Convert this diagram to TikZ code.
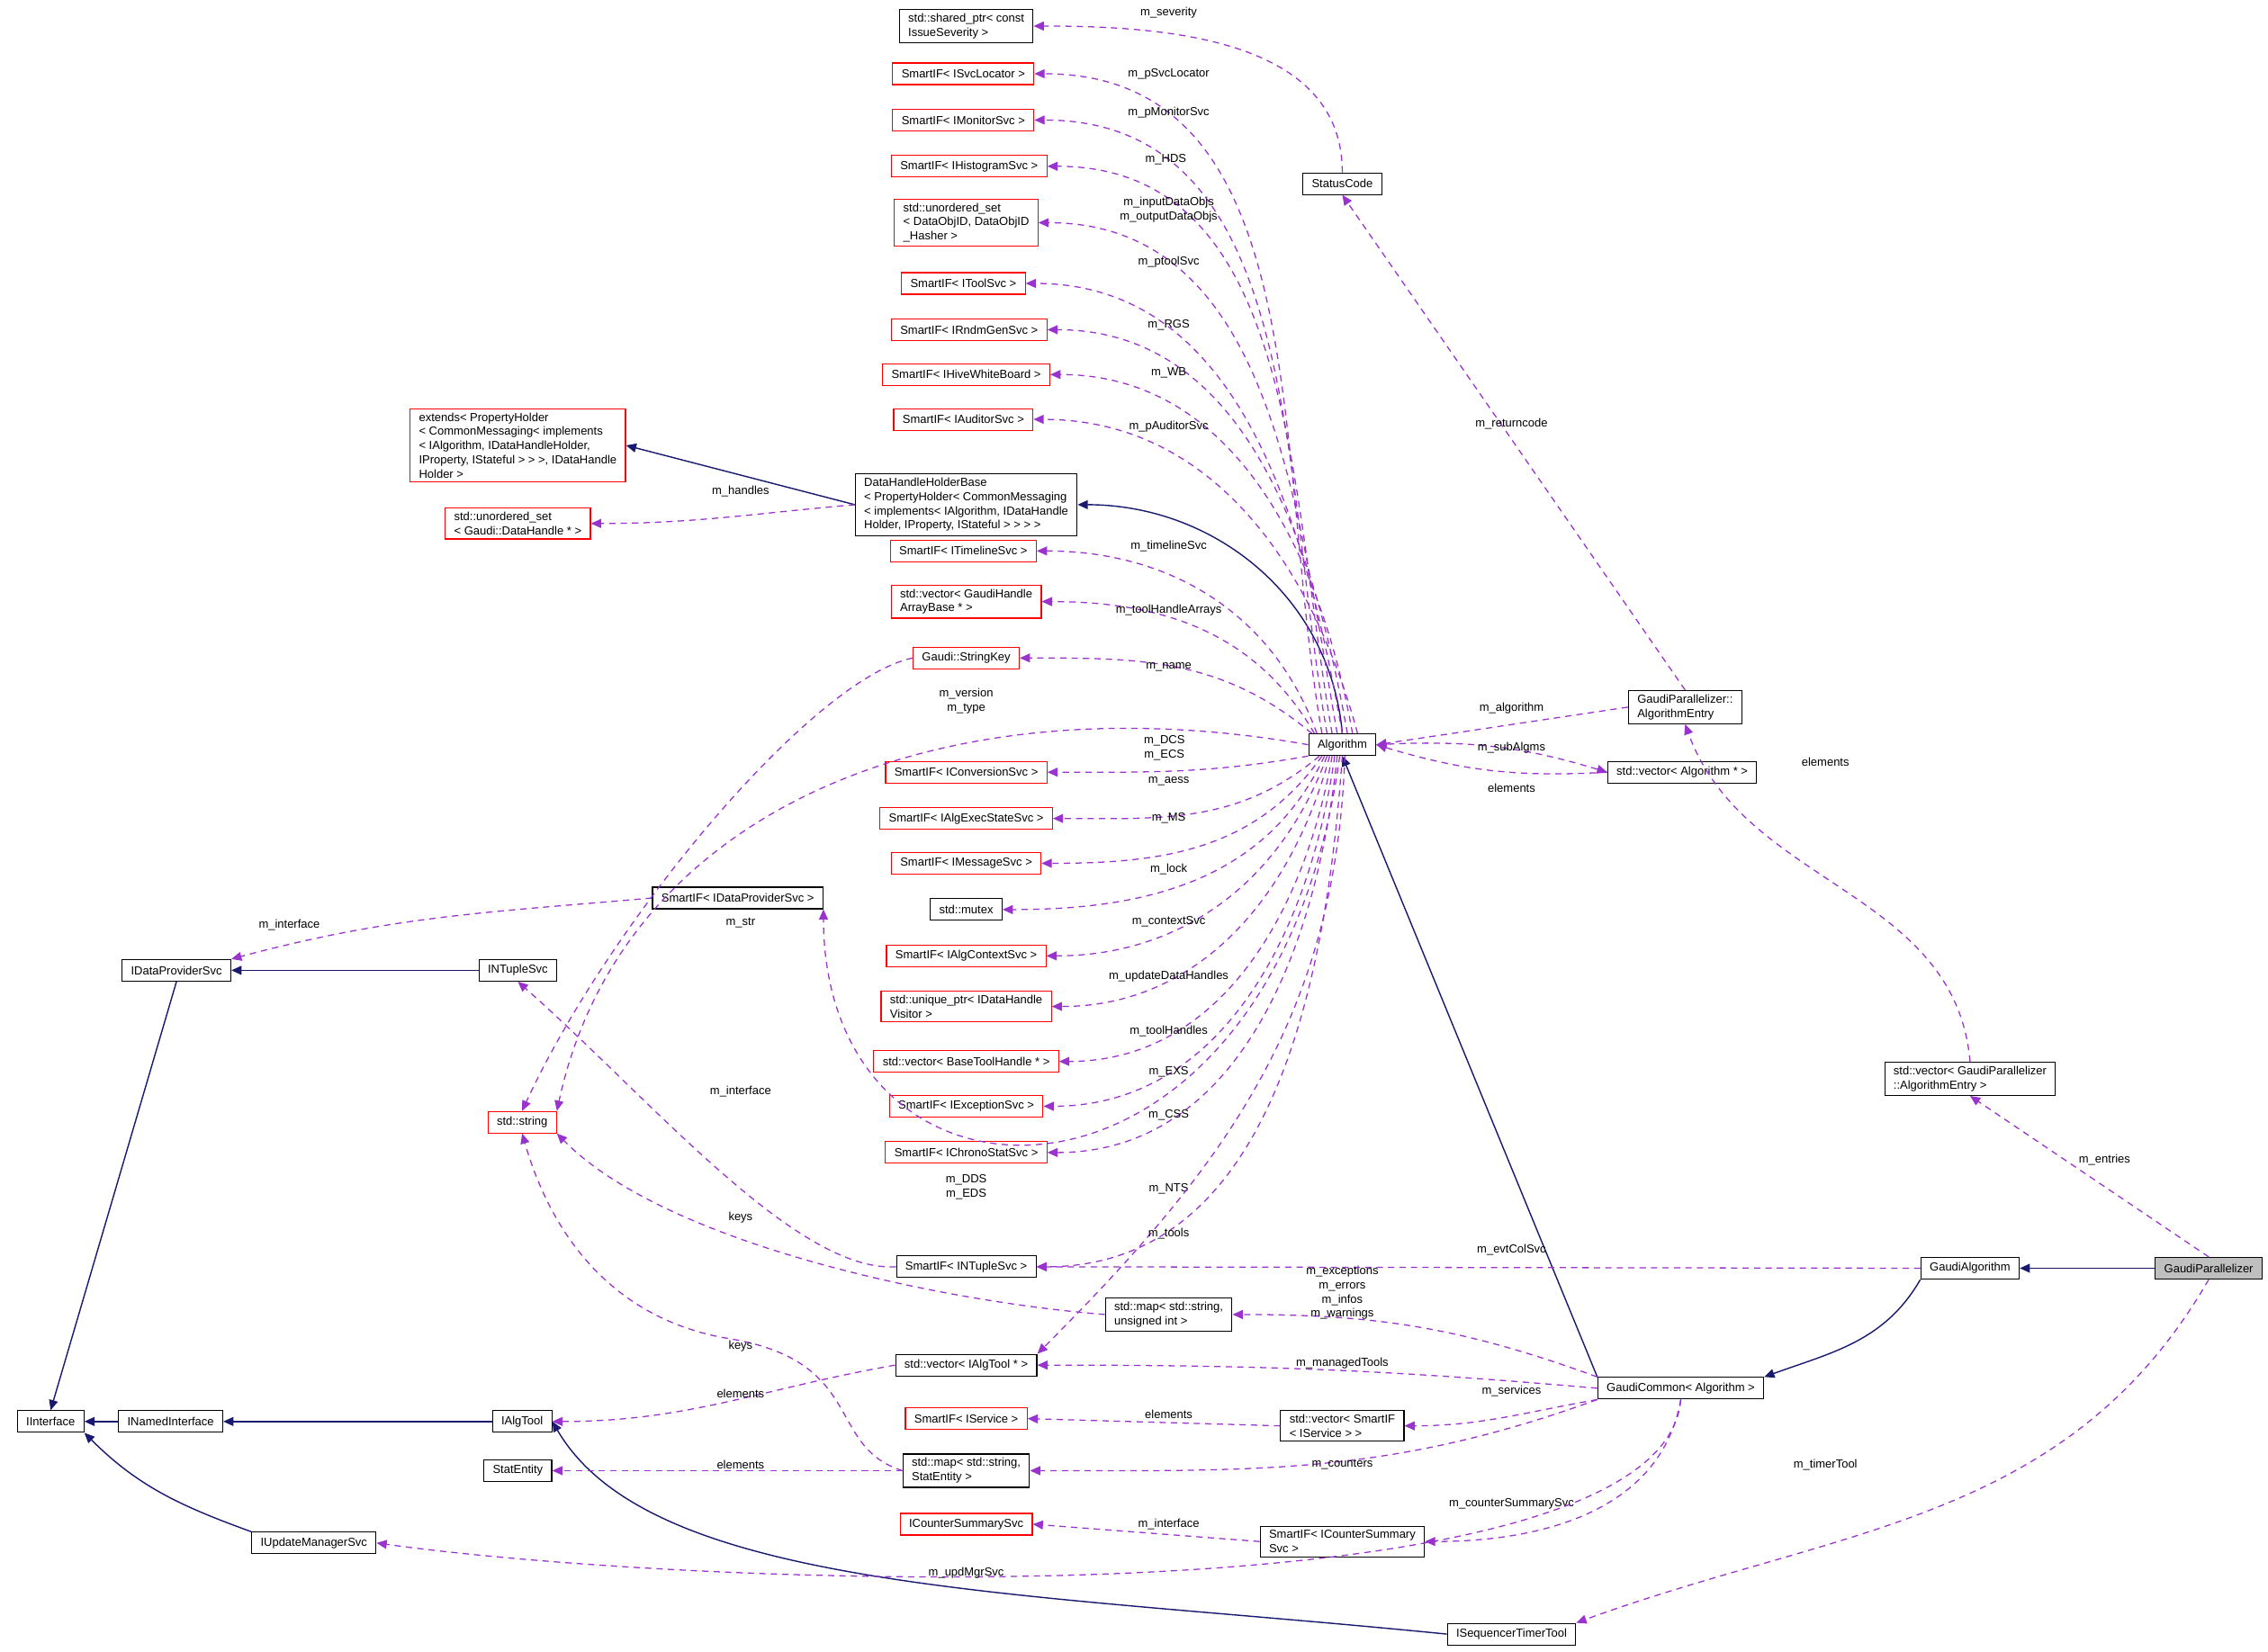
\documentclass[tikz,border=0pt]{standalone}
\usepackage{fontspec}
\setmainfont{Liberation Sans}
\usetikzlibrary{arrows.meta}
\definecolor{inhcol}{RGB}{25,25,112}
\definecolor{usecol}{RGB}{154,50,205}
\begin{document}
\begin{tikzpicture}[x=0.02cm,y=-0.02cm,
  every node/.style={font=\fontsize{4.6}{5.6}\selectfont},
  cls/.style={draw=black,line width=0.4pt,fill=white,inner xsep=3.5pt,inner ysep=1.6pt,minimum height=8.5pt,align=left},
  ext/.style={cls,draw=red},
  cur/.style={cls,fill=black!25},
  inh/.style={draw=inhcol,line width=0.5pt,-{Triangle[length=4pt,width=3.5pt]}},
  use/.style={draw=usecol,line width=0.45pt,dash pattern=on 2.5pt off 2pt,-{Triangle[length=4pt,width=3.5pt]}},
  lbl/.style={inner sep=0.5pt,align=center}]
    \fill[white] (0,0) rectangle (1568,1142);
    % Left column
    \node[cls] (iif) at (35,983) {IInterface};
    \node[cls] (inamed) at (118,983) {INamedInterface};
    \node[cls] (ialgtool) at (361,983) {IAlgTool};
    \node[cls] (statent) at (358,1017) {StatEntity};
    \node[cls] (iupd) at (217,1067) {IUpdateManagerSvc};
    \node[cls] (idps) at (122,671) {IDataProviderSvc};
    \node[cls] (intup) at (358,671) {INTupleSvc};
    \node[ext] (stdstr) at (361,776) {std::string};
    \node[ext] (extends) at (358,308) {extends< PropertyHolder\\< CommonMessaging< implements\\< IAlgorithm, IDataHandleHolder,\\ IProperty, IStateful > > >, IDataHandle\\Holder >};
    \node[ext] (uset) at (358,362) {std::unordered\_set\\< Gaudi::DataHandle * >};
    \node[cls] (sidps) at (510,621) {SmartIF< IDataProviderSvc >};
    % Middle column
    \node[cls] (shsev) at (668,18) {std::shared\_ptr< const\\ IssueSeverity >};
    \node[ext] (ssvcloc) at (666,51) {SmartIF< ISvcLocator >};
    \node[ext] (smon) at (666,83) {SmartIF< IMonitorSvc >};
    \node[ext] (shist) at (670,115) {SmartIF< IHistogramSvc >};
    \node[ext] (usetobj) at (668,154) {std::unordered\_set\\< DataObjID, DataObjID\\\_Hasher >};
    \node[ext] (stool) at (666,196) {SmartIF< IToolSvc >};
    \node[ext] (srndm) at (670,228) {SmartIF< IRndmGenSvc >};
    \node[ext] (shive) at (668,259) {SmartIF< IHiveWhiteBoard >};
    \node[ext] (saud) at (666,290) {SmartIF< IAuditorSvc >};
    \node[cls] (dhhb) at (668,349) {DataHandleHolderBase\\< PropertyHolder< CommonMessaging\\< implements< IAlgorithm, IDataHandle\\Holder, IProperty, IStateful > > > >};
    \node[ext] (stime) at (666,381) {SmartIF< ITimelineSvc >};
    \node[ext] (vgha) at (668,416) {std::vector< GaudiHandle\\ArrayBase * >};
    \node[ext] (skey) at (668,455) {Gaudi::StringKey};
    \node[ext] (sconv) at (668,534) {SmartIF< IConversionSvc >};
    \node[ext] (saes) at (668,566) {SmartIF< IAlgExecStateSvc >};
    \node[ext] (smsg) at (668,597) {SmartIF< IMessageSvc >};
    \node[cls] (mutex) at (668,629) {std::mutex};
    \node[ext] (sctx) at (668,661) {SmartIF< IAlgContextSvc >};
    \node[ext] (uptr) at (668,696) {std::unique\_ptr< IDataHandle\\Visitor >};
    \node[ext] (vbth) at (668,734) {std::vector< BaseToolHandle * >};
    \node[ext] (sexc) at (668,765) {SmartIF< IExceptionSvc >};
    \node[ext] (schr) at (668,797) {SmartIF< IChronoStatSvc >};
    \node[cls] (sntup) at (668,876) {SmartIF< INTupleSvc >};
    \node[cls] (vtool) at (668,944) {std::vector< IAlgTool * >};
    \node[ext] (ssvc) at (668,981) {SmartIF< IService >};
    \node[cls] (mapstat) at (668,1017) {std::map< std::string,\\ StatEntity >};
    \node[ext] (icsum) at (668,1054) {ICounterSummarySvc};
    % Right column
    \node[cls] (status) at (928,127) {StatusCode};
    \node[cls] (alg) at (928,515) {Algorithm};
    \node[cls] (mapuint) at (808,909) {std::map< std::string,\\ unsigned int >};
    \node[cls] (vsvc) at (928,986) {std::vector< SmartIF\\< IService > >};
    \node[cls] (scsum) at (928,1066) {SmartIF< ICounterSummary\\Svc >};
    \node[cls] (seqtt) at (1045,1130) {ISequencerTimerTool};
    \node[cls] (algent) at (1165,489) {GaudiParallelizer::\\AlgorithmEntry};
    \node[cls] (valg) at (1163,534) {std::vector< Algorithm * >};
    \node[cls] (gcommon) at (1162,960) {GaudiCommon< Algorithm >};
    \node[cls] (galg) at (1362,877) {GaudiAlgorithm};
    \node[cls] (vent) at (1362,746) {std::vector< GaudiParallelizer\\::AlgorithmEntry >};
    \node[cur] (gpar) at (1527,877) {GaudiParallelizer};
    % Inheritance
    \draw[inh] (inamed) -- (iif);
    \draw[inh] (ialgtool) -- (inamed);
    \draw[inh] (iupd.north west) to[out=160,in=-45] (iif.south east);
    \draw[inh] (idps.south) -- (iif.north);
    \draw[inh] (intup) -- (idps);
    \draw[inh] (dhhb.west) -- (extends.east);
    \draw[inh] (alg.north) to[out=95,in=0] (dhhb.east);
    \draw[inh] (gcommon.north west) -- (alg.south);
    \draw[inh] (galg.south west) to[out=240,in=20] (gcommon.north east);
    \draw[inh] (gpar) -- (galg);
    \draw[inh] (seqtt.west) .. controls (700,1100) and (450,1100) .. (ialgtool.east);
    % Members of Algorithm
    \draw[use] (status.north) to[out=90,in=0] (shsev.east) node[lbl] at (808,9) {m\_severity};
    \draw[use] ([xshift=-8pt]alg.north) to[out=100,in=0] (ssvcloc.east) node[lbl] at (808,51) {m\_pSvcLocator};
    \draw[use] ([xshift=-6pt]alg.north) to[out=100,in=0] (smon.east) node[lbl] at (808,78) {m\_pMonitorSvc};
    \draw[use] ([xshift=-4pt]alg.north) to[out=100,in=0] (shist.east) node[lbl] at (806,110) {m\_HDS};
    \draw[use] ([xshift=-2pt]alg.north) to[out=100,in=0] (usetobj.east) node[lbl] at (808,145) {m\_inputDataObjs\\m\_outputDataObjs};
    \draw[use] (alg.north) to[out=100,in=0] (stool.east) node[lbl] at (808,181) {m\_ptoolSvc};
    \draw[use] ([xshift=2pt]alg.north) to[out=100,in=0] (srndm.east) node[lbl] at (808,225) {m\_RGS};
    \draw[use] ([xshift=4pt]alg.north) to[out=100,in=0] (shive.east) node[lbl] at (808,258) {m\_WB};
    \draw[use] ([xshift=6pt]alg.north) to[out=105,in=0] (saud.east) node[lbl] at (808,295) {m\_pAuditorSvc};
    \draw[use] ([xshift=-10pt]alg.north) to[out=110,in=0] (stime.east) node[lbl] at (808,378) {m\_timelineSvc};
    \draw[use] ([xshift=-11pt]alg.north) to[out=120,in=0] (vgha.east) node[lbl] at (808,422) {m\_toolHandleArrays};
    \draw[use] ([xshift=-12pt]alg.north) to[out=140,in=0] (skey.east) node[lbl] at (808,461) {m\_name};
    \draw[use] (alg.west) .. controls (650,470) and (430,560) .. (stdstr.north east) node[lbl] at (668,485) {m\_version\\m\_type};
    \draw[use] (alg.south west) to[out=190,in=0] (sconv.east) node[lbl] at (805,517) {m\_DCS\\m\_ECS};
    \draw[use] ([xshift=-9pt]alg.south) to[out=220,in=0] (saes.east) node[lbl] at (808,540) {m\_aess};
    \draw[use] ([xshift=-8pt]alg.south) to[out=235,in=0] (smsg.east) node[lbl] at (808,566) {m\_MS};
    \draw[use] ([xshift=-7pt]alg.south) to[out=245,in=0] (mutex.east) node[lbl] at (808,601) {m\_lock};
    \draw[use] ([xshift=-6pt]alg.south) to[out=250,in=0] (sctx.east) node[lbl] at (808,637) {m\_contextSvc};
    \draw[use] ([xshift=-5pt]alg.south) to[out=255,in=0] (uptr.east) node[lbl] at (808,675) {m\_updateDataHandles};
    \draw[use] ([xshift=-4pt]alg.south) to[out=260,in=0] (vbth.east) node[lbl] at (808,713) {m\_toolHandles};
    \draw[use] ([xshift=-3pt]alg.south) to[out=262,in=0] (sexc.east) node[lbl] at (808,741) {m\_EXS};
    \draw[use] ([xshift=-2pt]alg.south) to[out=264,in=0] (schr.east) node[lbl] at (808,771) {m\_CSS};
    \draw[use] ([xshift=-1pt]alg.south) .. controls (880,860) and (570,860) .. (sidps.south east) node[lbl] at (668,821) {m\_DDS\\m\_EDS};
    \draw[use] (alg.south) to[out=266,in=0] (sntup.east) node[lbl] at (808,822) {m\_NTS};
    \draw[use] ([xshift=1pt]alg.south) to[out=268,in=45] (vtool.north east) node[lbl] at (808,853) {m\_tools};
    \draw[use] (alg.east) to[bend left=10] (valg.west) node[lbl] at (1045,517) {m\_subAlgms};
    \draw[use] (valg.west) to[bend left=10] (alg.east) node[lbl] at (1045,545) {elements};
    % Other members
    \draw[use] (dhhb.west) to[out=185,in=0] (uset.east) node[lbl] at (512,340) {m\_handles};
    \draw[use] (sidps.west) to[out=185,in=15] (idps.north east) node[lbl] at (200,640) {m\_interface};
    \draw[use] (sntup.west) .. controls (550,880) and (450,760) .. (intup.south) node[lbl] at (512,755) {m\_interface};
    \draw[use] (skey.west) .. controls (560,470) and (420,640) .. (stdstr.north) node[lbl] at (512,638) {m\_str};
    \draw[use] (mapuint.west) .. controls (650,900) and (460,860) .. (stdstr.south east) node[lbl] at (512,842) {keys};
    \draw[use] (mapstat.west) .. controls (570,1000) and (600,940) .. (500,925) .. controls (420,910) and (380,850) .. (stdstr.south) node[lbl] at (512,931) {keys};
    \draw[use] (mapstat.west) -- (statent.east) node[lbl] at (512,1013) {elements};
    \draw[use] (vtool.west) to[out=190,in=0] (ialgtool.east) node[lbl] at (512,964) {elements};
    \draw[use] (vsvc.west) -- (ssvc.east) node[lbl] at (808,978) {elements};
    \draw[use] (scsum.west) -- (icsum.east) node[lbl] at (808,1054) {m\_interface};
    \draw[use] (algent.west) -- (alg.east) node[lbl] at (1045,490) {m\_algorithm};
    \draw[use] (algent.north) -- (status.south) node[lbl] at (1045,293) {m\_returncode};
    \draw[use] (vent.north) to[out=95,in=290] (algent.south) node[lbl] at (1262,527) {elements};
    \draw[use] (gpar.north) -- (vent.south) node[lbl] at (1455,802) {m\_entries};
    \draw[use] (gpar.south) to[out=240,in=20] (seqtt.north east) node[lbl] at (1262,1013) {m\_timerTool};
    \draw[use] (galg.west) -- (sntup.east) node[lbl] at (1045,864) {m\_evtColSvc};
    \draw[use] (gcommon.north west) to[out=160,in=0] (mapuint.east) node[lbl] at (928,894) {m\_exceptions\\m\_errors\\m\_infos\\m\_warnings};
    \draw[use] (gcommon.west) to[out=175,in=0] (vtool.east) node[lbl] at (928,943) {m\_managedTools};
    \draw[use] (gcommon.south west) to[out=190,in=0] (vsvc.east) node[lbl] at (1045,962) {m\_services};
    \draw[use] (gcommon.south west) to[out=200,in=0] (mapstat.east) node[lbl] at (928,1013) {m\_counters};
    \draw[use] (gcommon.south) to[out=260,in=0] (scsum.east) node[lbl] at (1045,1040) {m\_counterSummarySvc};
    \draw[use] (gcommon.south) .. controls (1150,1120) and (500,1100) .. (iupd.east) node[lbl] at (668,1088) {m\_updMgrSvc};
\end{tikzpicture}
\end{document}
